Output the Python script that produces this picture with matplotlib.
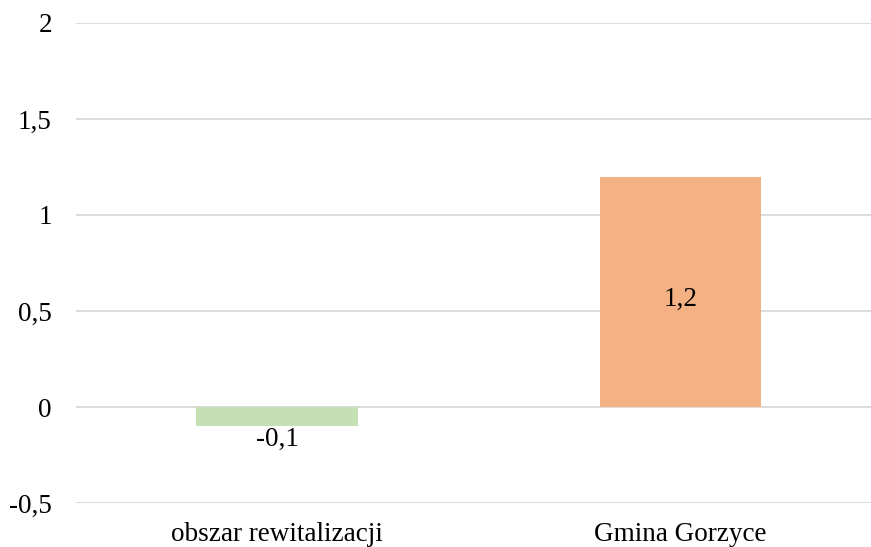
import matplotlib
matplotlib.use("Agg")
import matplotlib.pyplot as plt

categories = ["obszar rewitalizacji", "Gmina Gorzyce"]
values = [-0.1, 1.2]
colors = ["#C5E0B4", "#F4B183"]
yticks = [-0.5, 0, 0.5, 1, 1.5, 2]
ytick_labels = ["-0,5", "0", "0,5", "1", "1,5", "2"]

plt.rcParams["font.family"] = ["Liberation Serif", "DejaVu Serif"]
FS = 19.5

fig = plt.figure(figsize=(8.71, 5.47), dpi=100)
ax = fig.add_axes([0.0867, 0.0804, 0.926, 0.8776])

x = list(range(len(categories)))
bars = ax.bar(x, values, width=0.40, color=colors, zorder=3)

ax.set_xlim(-0.5, 1.5)
ax.set_ylim(-0.5, 2)
ax.set_yticks(yticks)
ax.set_yticklabels(ytick_labels, fontsize=FS)
ax.set_xticks(x)
ax.set_xticklabels(categories, fontsize=FS)
ax.tick_params(length=0)
ax.tick_params(axis="x", pad=14)
ax.tick_params(axis="y", pad=17)
ax.yaxis.grid(True, color="#D9D9D9", linewidth=1.3, zorder=0)
for s in ax.spines.values():
    s.set_visible(False)

for b, v in zip(bars, values):
    label = f"{v:.1f}".replace(".", ",")
    cx = b.get_x() + b.get_width() / 2
    if v < 0:
        ax.text(cx, v - 0.005, label, ha="center", va="top", fontsize=FS, zorder=4)
    else:
        ax.text(cx, v / 2 - 0.04, label, ha="center", va="center", fontsize=FS, zorder=4)

fig.savefig("out.png", dpi=100)
